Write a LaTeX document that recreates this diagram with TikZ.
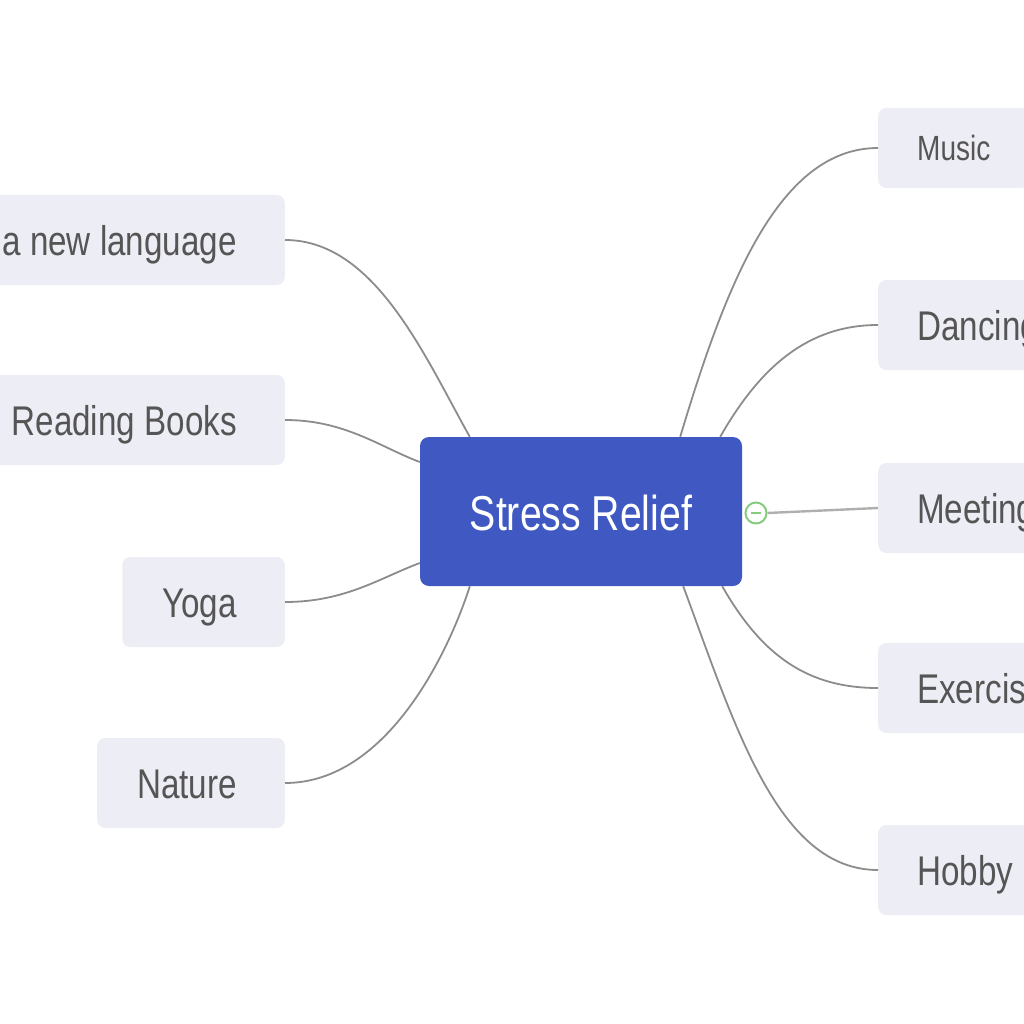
\documentclass[tikz,border=0pt]{standalone}
\usepackage{fontspec}
\setmainfont{Liberation Sans}[FakeStretch=0.8]
\usetikzlibrary{calc}

\definecolor{rootblue}{HTML}{4059C2}
\definecolor{leaffill}{HTML}{EDEDF5}
\definecolor{leaftext}{HTML}{555555}
\definecolor{branchgray}{HTML}{8C8C8C}
\definecolor{togglegreen}{HTML}{86CC7E}

\begin{document}
\begin{tikzpicture}[
        x=1pt, y=-1pt,
        root/.style={rectangle, rounded corners=9pt, fill=rootblue, text=white,
            minimum width=322pt, minimum height=149pt, inner sep=0pt,
            text height=38pt, text depth=1pt,
            font=\fontsize{49}{56}\selectfont},
        leaf/.style={rectangle, rounded corners=8pt, fill=leaffill, text=leaftext,
            minimum height=90pt, inner ysep=0pt, text height=32pt, text depth=2pt,
            font=\fontsize{41.5}{48}\selectfont},
        leftleaf/.style={leaf, anchor=east, inner xsep=40pt,
            execute at end node={\hspace*{8pt}}},
        rightleaf/.style={leaf, anchor=west, inner xsep=39pt},
        branch/.style={draw=branchgray, line width=1.8pt},
        toggle/.style={circle, draw=togglegreen, fill=white, line width=2pt,
            minimum size=21pt, inner sep=0pt}
    ]
    \path[use as bounding box, clip] (0,0) rectangle (1024,1024);

    % Central topic
    \node[root] (root) at (581,511.5) {Stress Relief};

    % Left branches
    \node[leftleaf] (lang) at (285,240) {a new language};
    \node[leftleaf] (reading) at (285,420) {Reading Books};
    \node[leftleaf] (yoga) at (285,602) {Yoga};
    \node[leftleaf] (nature) at (285,783) {Nature};

    % Right branches
    \node[rightleaf, minimum height=80pt, text height=27pt, text depth=1pt,
        font=\fontsize{35}{40}\selectfont] (music) at (878,148) {Music};
    \node[rightleaf] (dancing) at (878,325) {Dancing};
    \node[rightleaf] (meeting) at (878,508) {Meeting};
    \node[rightleaf] (exercise) at (878,688) {Exercise};
    \node[rightleaf] (hobby) at (878,870) {Hobby};

    % Collapse button
    \node[toggle] (tog) at (756,513) {};
    \draw[togglegreen, line width=2pt] ($(tog.center)+(-5,0)$) -- ($(tog.center)+(5,0)$);

    % Left connectors
    \draw[branch] (lang.east) .. controls +(90,0) and +(-45,-80) .. ($(root.north west)+(50,0)$);
    \draw[branch] (reading.east) .. controls +(60,0) and +(-40,-15) .. ($(root.west)+(0,-49.5)$);
    \draw[branch] (yoga.east) .. controls +(60,0) and +(-40,15) .. ($(root.west)+(0,51.5)$);
    \draw[branch] (nature.east) .. controls +(103,0) and +(-20,63) .. ($(root.south west)+(50,0)$);

    % Right connectors
    \draw[branch] ($(root.north east)+(-62,0)$) .. controls +(45,-150) and +(-100,0) .. (music.west);
    \draw[branch] ($(root.north east)+(-22,0)$) .. controls +(40,-70) and +(-70,0) .. (dancing.west);
    \draw[branch, draw=branchgray!70, line width=2.4pt] (tog.east) -- (meeting.west);
    \draw[branch] ($(root.south east)+(-20,0)$) .. controls +(40,70) and +(-70,0) .. (exercise.west);
    \draw[branch] ($(root.south east)+(-59,0)$) .. controls +(52,140) and +(-100,0) .. (hobby.west);

    \end{tikzpicture}
\end{document}
